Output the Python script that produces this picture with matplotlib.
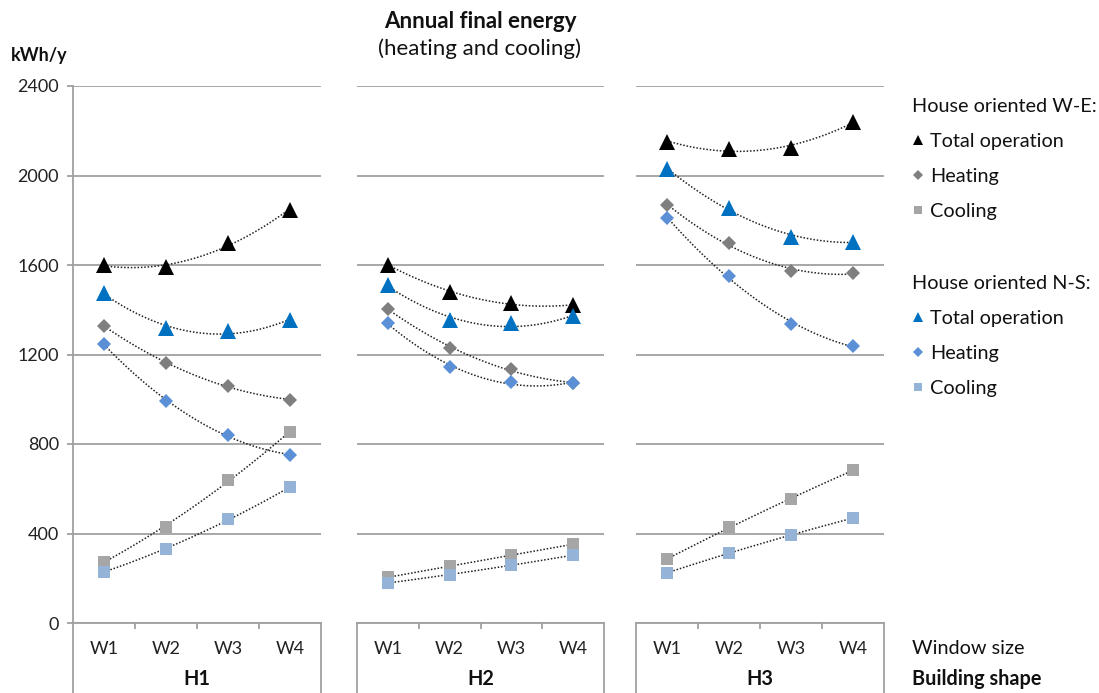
import numpy as np
import matplotlib
matplotlib.use("Agg")
import matplotlib.pyplot as plt

plt.rcParams['font.family'] = ['Lato', 'DejaVu Sans']

# ---- data ----
windows = ["W1", "W2", "W3", "W4"]
shapes = ["H1", "H2", "H3"]

we_total = {"H1": [1600, 1590, 1697, 1848], "H2": [1602, 1480, 1428, 1421], "H3": [2151, 2120, 2124, 2240]}
we_heating = {"H1": [1328, 1161, 1059, 998], "H2": [1404, 1231, 1133, 1073], "H3": [1868, 1698, 1574, 1563]}
we_cooling = {"H1": [274, 430, 639, 854], "H2": [204, 254, 303, 352], "H3": [285, 428, 554, 683]}
ns_total = {"H1": [1474, 1318, 1304, 1354], "H2": [1510, 1354, 1339, 1370], "H3": [2029, 1856, 1725, 1704]}
ns_heating = {"H1": [1246, 992, 840, 751], "H2": [1340, 1143, 1078, 1073], "H3": [1810, 1552, 1336, 1238]}
ns_cooling = {"H1": [229, 331, 463, 607], "H2": [179, 216, 259, 303], "H3": [224, 312, 393, 469]}

yticks = [0, 400, 800, 1200, 1600, 2000, 2400]

series = [
    ("Total operation", we_total, "^", "#000000", 11, "we"),
    ("Heating", we_heating, "D", "#7f7f7f", 7, "we"),
    ("Cooling", we_cooling, "s", "#a6a6a6", 8.5, "we"),
    ("Total operation", ns_total, "^", "#0070c0", 11, "ns"),
    ("Heating", ns_heating, "D", "#5b8fd6", 7, "ns"),
    ("Cooling", ns_cooling, "s", "#95b3d7", 8.5, "ns"),
]

W, H = 1099, 693
fig = plt.figure(figsize=(W / 100, H / 100), dpi=100)

panel_px = [(73, 321), (357, 604), (636, 884)]
y_top, y_bot = 86, 623
GRID = "#a0a0a0"
FS = 13
FSL = 14.3
TXT = "#111111"

handles_we, handles_ns = [], []
for k, (shape, (x0, x1)) in enumerate(zip(shapes, panel_px)):
    ax = fig.add_axes([x0 / W, (H - y_bot) / H, (x1 - x0) / W, (y_bot - y_top) / H])
    ax.set_xlim(-0.5, 3.5)
    ax.set_ylim(0, 2400)
    ax.set_yticks(yticks)
    ax.yaxis.grid(True, color=GRID, lw=1.3)
    ax.set_axisbelow(True)
    for s in ["top", "right"]:
        ax.spines[s].set_visible(False)
    ax.spines["bottom"].set_color(GRID)
    ax.spines["bottom"].set_linewidth(1.3)
    if k == 0:
        ax.spines["left"].set_color(GRID)
        ax.spines["left"].set_linewidth(1.3)
        ax.tick_params(axis="y", length=4, color=GRID, width=1.3, labelsize=FS, pad=6, labelcolor="#222222")
    else:
        ax.spines["left"].set_visible(False)
        ax.tick_params(axis="y", length=0, labelleft=False)
    ax.set_xticks(range(4))
    ax.set_xticklabels(windows)
    ax.set_xticks([0.5, 1.5, 2.5], minor=True)
    ax.tick_params(axis="x", which="major", length=0, labelsize=FS, pad=13, labelcolor="#222222")
    ax.tick_params(axis="x", which="minor", length=4, color=GRID, width=1.3)
    tr = ax.get_xaxis_transform()
    ybottom = -(H - y_bot) / (y_bot - y_top)
    for xe in (-0.5, 3.5):
        ax.plot([xe, xe], [0, ybottom], transform=tr, color=GRID, lw=1.3, clip_on=False)
    ax.text(1.5, -(679 - y_bot) / (y_bot - y_top), shape, transform=tr, ha="center", va="center",
            fontsize=FSL, fontweight="bold", color=TXT)

    x = np.arange(4)
    xs = np.linspace(0, 3, 60)
    for label, data, mk, col, ms, grp in series:
        vals = np.array(data[shape], dtype=float)
        coef = np.polyfit(x, vals, 2)
        ax.plot(xs, np.polyval(coef, xs), ls=(0, (1, 1.2)), color="#202020", lw=1.1, zorder=3)
        ln, = ax.plot(x, vals, ls="none", marker=mk, ms=ms, color=col, mec=col, mew=0, zorder=4,
                      label=label, clip_on=False)
        if k == 0:
            (handles_we if grp == "we" else handles_ns).append(ln)

# titles
fig.text(480 / W, 1 - 21 / H, "Annual final energy", ha="center", va="center", fontsize=16, fontweight="bold", color=TXT)
fig.text(480 / W, 1 - 49 / H, "(heating and cooling)", ha="center", va="center", fontsize=16, color=TXT)
fig.text(11 / W, 1 - 55 / H, "kWh/y", ha="left", va="center", fontsize=FS, fontweight="bold", color=TXT)
fig.text(912 / W, 1 - 649 / H, "Window size", ha="left", va="center", fontsize=FSL, color=TXT)
fig.text(912 / W, 1 - 679 / H, "Building shape", ha="left", va="center", fontsize=FSL, fontweight="bold", color=TXT)

common = dict(loc="upper left", frameon=False, fontsize=FSL, title_fontsize=FSL, handlelength=0.63,
              handletextpad=0.3, labelspacing=0.9, borderpad=0, borderaxespad=0, markerscale=0.7,
              alignment="left")
leg1 = fig.legend(handles=handles_we, labels=[h.get_label() for h in handles_we],
                  title="House oriented W-E:", bbox_to_anchor=(912 / W, 1 - 98 / H), **common)
leg2 = fig.legend(handles=handles_ns, labels=[h.get_label() for h in handles_ns],
                  title="House oriented N-S:", bbox_to_anchor=(912 / W, 1 - 275 / H), **common)
for lg in (leg1, leg2):
    lg.get_title().set_color(TXT)
    for t in lg.get_texts():
        t.set_color(TXT)

fig.savefig("out.png", dpi=100)
